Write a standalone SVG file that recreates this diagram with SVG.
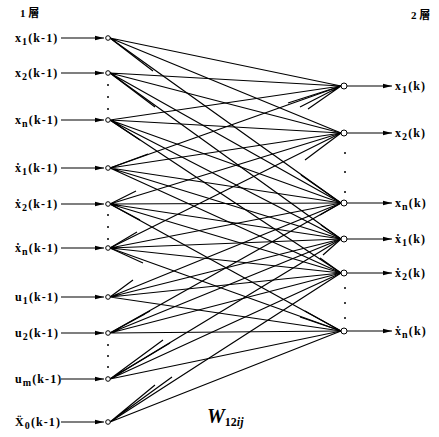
<svg xmlns="http://www.w3.org/2000/svg" width="439" height="437" viewBox="0 0 439 437">
<style>
.lbl{font-family:"Liberation Serif","DejaVu Serif",serif;font-size:12px;font-weight:bold;letter-spacing:1.1px;fill:#000}
.sub{font-size:10px}
.cjk{font-family:"Liberation Serif","Noto Sans CJK JP",sans-serif;font-size:11px;font-weight:bold;fill:#000}
.w{stroke:#000;stroke-width:1.2;fill:none}
.io{stroke:#000;stroke-width:1.1;fill:none;marker-end:url(#ah)}
.nd{fill:#fff;stroke:#000;stroke-width:1}
.dot{fill:#000}
.title{font-family:"Liberation Serif","DejaVu Serif",serif;font-weight:bold;font-style:italic;fill:#000}
</style>
<defs>
<marker id="ah" markerUnits="userSpaceOnUse" markerWidth="10" markerHeight="6" refX="9" refY="3" orient="auto">
<path d="M0,0.8 L9,3 L0,5.2 Z" fill="#000"/>
</marker>
</defs>
<rect width="439" height="437" fill="#fff"/>

<text class="cjk" x="20" y="17">1 層</text>
<text class="cjk" x="411" y="19">2 層</text>

<g id="connectors">
<!-- input arrows -->
<path class="io" d="M61,38H104"/>
<path class="io" d="M61,73H104"/>
<path class="io" d="M61,120H104"/>
<path class="io" d="M61,168H104"/>
<path class="io" d="M61,204H104"/>
<path class="io" d="M61,248H104"/>
<path class="io" d="M61,297H104"/>
<path class="io" d="M61,333H104"/>
<path class="io" d="M61,379H104"/>
<path class="io" d="M61,422H104"/>
<!-- output arrows -->
<path class="io" d="M347,86H392"/>
<path class="io" d="M347,133H392"/>
<path class="io" d="M347,203H392"/>
<path class="io" d="M347,239H392"/>
<path class="io" d="M347,273H392"/>
<path class="io" d="M347,331H392"/>
<!-- full weight lines -->
<path class="w" d="M110,38L341,86M110,38L341,133M110,38L341,203"/>
<path class="w" d="M110,73L341,86M110,73L341,133M110,73L341,203M110,73L341,239"/>
<path class="w" d="M110,120L341,86M110,120L341,133M110,120L341,203M110,120L341,239M110,120L341,273"/>
<path class="w" d="M110,168L341,86M110,168L341,133M110,168L341,203M110,168L341,239M110,168L341,273"/>
<path class="w" d="M110,204L341,133M110,204L341,203M110,204L341,239M110,204L341,273M110,204L341,331"/>
<path class="w" d="M110,248L341,133M110,248L341,203M110,248L341,239M110,248L341,273M110,248L341,331"/>
<path class="w" d="M110,297L341,203M110,297L341,239M110,297L341,273M110,297L341,331"/>
<path class="w" d="M110,333L341,203M110,333L341,239M110,333L341,273M110,333L341,331"/>
<path class="w" d="M110,379L341,239M110,379L341,273M110,379L341,331"/>
<path class="w" d="M110,422L341,273M110,422L341,331"/>
<!-- short stubs at inputs -->
<path class="w" d="M110,38L153,71M110,73L155,107M110,120L140,140M110,168L148,154M110,204L136,191M110,204L140,220M110,248L137,232M110,248L143,263M110,297L133,280M110,333L150,311M110,333L145,314M110,379L163,340M110,379L170,343M110,422L155,385M110,422L172,377"/>
<!-- short stubs at outputs -->
<path class="w" d="M288,103L341,86M300,107L341,86M308,109L341,86M305,160L341,133M301,175L341,203M320,215L341,203M321,225L341,239M323,255L341,239M320,258L341,273M305,311L341,331M300,317L341,331"/>
</g>

<g id="in_x1"><circle class="nd" cx="108" cy="38" r="2.3"/><text class="lbl" x="15" y="42">x<tspan class="sub" dy="3">1</tspan><tspan dy="-3">(k-1)</tspan></text></g>
<g id="in_x2"><circle class="nd" cx="108" cy="73" r="2.3"/><text class="lbl" x="15" y="77">x<tspan class="sub" dy="3">2</tspan><tspan dy="-3">(k-1)</tspan></text></g>
<g id="in_xn"><circle class="nd" cx="108" cy="120" r="2.3"/><text class="lbl" x="15" y="124">x<tspan class="sub" dy="3">n</tspan><tspan dy="-3">(k-1)</tspan></text></g>
<g id="in_dx1"><circle class="nd" cx="108" cy="168" r="2.3"/><text class="lbl" x="15" y="172">ẋ<tspan class="sub" dy="3">1</tspan><tspan dy="-3">(k-1)</tspan></text></g>
<g id="in_dx2"><circle class="nd" cx="108" cy="204" r="2.3"/><text class="lbl" x="15" y="208">ẋ<tspan class="sub" dy="3">2</tspan><tspan dy="-3">(k-1)</tspan></text></g>
<g id="in_dxn"><circle class="nd" cx="108" cy="248" r="2.3"/><text class="lbl" x="15" y="252">ẋ<tspan class="sub" dy="3">n</tspan><tspan dy="-3">(k-1)</tspan></text></g>
<g id="in_u1"><circle class="nd" cx="108" cy="297" r="2.3"/><text class="lbl" x="15" y="301">u<tspan class="sub" dy="3">1</tspan><tspan dy="-3">(k-1)</tspan></text></g>
<g id="in_u2"><circle class="nd" cx="108" cy="333" r="2.3"/><text class="lbl" x="15" y="337">u<tspan class="sub" dy="3">2</tspan><tspan dy="-3">(k-1)</tspan></text></g>
<g id="in_um"><circle class="nd" cx="108" cy="379" r="2.3"/><text class="lbl" x="15" y="383">u<tspan class="sub" dy="3">m</tspan><tspan dy="-3">(k-1)</tspan></text></g>
<g id="in_ddx0"><circle class="nd" cx="108" cy="422" r="2.3"/><text class="lbl" x="15" y="426">Ẍ<tspan class="sub" dy="3">0</tspan><tspan dy="-3">(k-1)</tspan></text></g>

<g id="left_dots">
<circle class="dot" cx="108" cy="85" r="1"/><circle class="dot" cx="108" cy="97" r="1"/><circle class="dot" cx="108" cy="109" r="1"/>
<circle class="dot" cx="108" cy="215" r="1"/><circle class="dot" cx="108" cy="227" r="1"/><circle class="dot" cx="108" cy="239" r="1"/>
<circle class="dot" cx="108" cy="345" r="1"/><circle class="dot" cx="108" cy="356" r="1"/><circle class="dot" cx="108" cy="367" r="1"/>
</g>

<g id="out_x1"><circle class="nd" cx="344" cy="86" r="3"/><text class="lbl" x="395" y="90">x<tspan class="sub" dy="3">1</tspan><tspan dy="-3">(k)</tspan></text></g>
<g id="out_x2"><circle class="nd" cx="344" cy="133" r="3"/><text class="lbl" x="395" y="137">x<tspan class="sub" dy="3">2</tspan><tspan dy="-3">(k)</tspan></text></g>
<g id="out_xn"><circle class="nd" cx="344" cy="203" r="3"/><text class="lbl" x="395" y="207">x<tspan class="sub" dy="3">n</tspan><tspan dy="-3">(k)</tspan></text></g>
<g id="out_dx1"><circle class="nd" cx="344" cy="239" r="3"/><text class="lbl" x="395" y="243">ẋ<tspan class="sub" dy="3">1</tspan><tspan dy="-3">(k)</tspan></text></g>
<g id="out_dx2"><circle class="nd" cx="344" cy="273" r="3"/><text class="lbl" x="395" y="277">ẋ<tspan class="sub" dy="3">2</tspan><tspan dy="-3">(k)</tspan></text></g>
<g id="out_dxn"><circle class="nd" cx="344" cy="331" r="3"/><text class="lbl" x="395" y="335">ẋ<tspan class="sub" dy="3">n</tspan><tspan dy="-3">(k)</tspan></text></g>

<g id="right_dots">
<circle class="dot" cx="345" cy="153" r="1"/><circle class="dot" cx="345" cy="172" r="1"/><circle class="dot" cx="345" cy="192" r="1"/>
<circle class="dot" cx="345" cy="288" r="1"/><circle class="dot" cx="345" cy="303" r="1"/><circle class="dot" cx="345" cy="318" r="1"/>
</g>

<text class="title" x="207" y="423" font-size="20">W<tspan font-size="12" font-style="normal" dy="3">12</tspan><tspan font-size="12">ij</tspan></text>
</svg>
